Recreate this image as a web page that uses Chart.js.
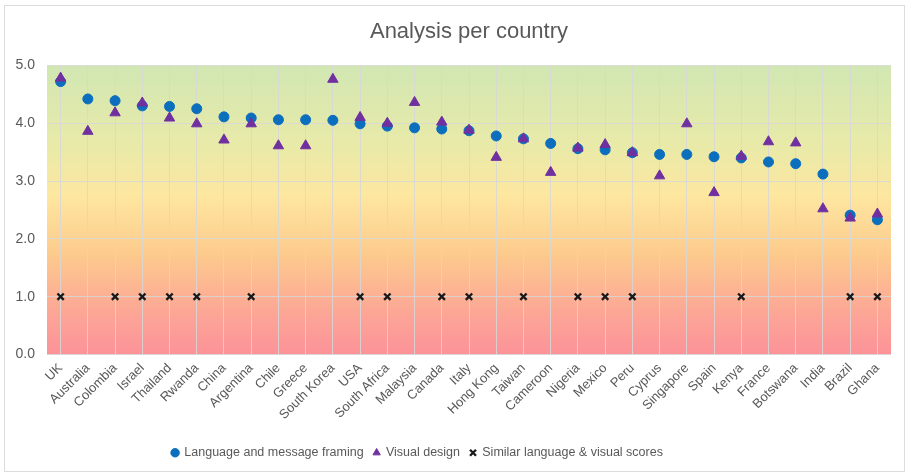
<!DOCTYPE html>
<html>
<head>
<meta charset="utf-8">
<script src="https://cdn.jsdelivr.net/npm/chart.js@4"></script>
<style>
  html, body { margin: 0; padding: 0; background: #ffffff; }
  #wrap { position: relative; width: 906px; height: 475px; }
</style>
</head>
<body>
<div id="wrap"><canvas id="countryChart"></canvas></div>
<script>
// categories
var countries = ['UK', 'Australia', 'Colombia', 'Israel', 'Thailand', 'Rwanda', 'China', 'Argentina',
  'Chile', 'Greece', 'South Korea', 'USA', 'South Africa', 'Malaysia', 'Canada', 'Italy',
  'Hong Kong', 'Taiwan', 'Cameroon', 'Nigeria', 'Mexico', 'Peru', 'Cyprus', 'Singapore',
  'Spain', 'Kenya', 'France', 'Botswana', 'India', 'Brazil', 'Ghana'];

// series values
var languageScores = [4.72, 4.42, 4.39, 4.30, 4.29, 4.25, 4.11, 4.09, 4.06, 4.06, 4.05, 3.99,
  3.95, 3.92, 3.90, 3.87, 3.78, 3.73, 3.65, 3.56, 3.54, 3.49, 3.46, 3.46, 3.42, 3.40,
  3.33, 3.30, 3.12, 2.41, 2.33];
var visualScores = [4.78, 3.86, 4.18, 4.35, 4.09, 3.99, 3.71, 3.99, 3.61, 3.61, 4.76, 4.10,
  4.00, 4.36, 4.02, 3.88, 3.41, 3.73, 3.15, 3.57, 3.63, 3.49, 3.09, 3.99, 2.80, 3.43,
  3.68, 3.66, 2.52, 2.36, 2.43];
var similarScores = [1, null, 1, 1, 1, 1, null, 1, null, null, null, 1, 1, null, 1, 1,
  null, 1, null, 1, 1, 1, null, null, null, 1, null, null, null, 1, 1];

// tick labels
var yTicks = [0, 1, 2, 3, 4, 5];

var textColor = '#595959';
Chart.defaults.font.family = '"Liberation Sans", Arial, sans-serif';
Chart.defaults.color = textColor;

// gradient behind the plot + thin frame round the whole picture
var backdrop = {
  id: 'backdrop',
  beforeDraw: function(chart) {
    var ctx = chart.ctx, a = chart.chartArea;
    ctx.save();
    ctx.strokeStyle = '#dcdcdc';
    ctx.lineWidth = 1;
    ctx.strokeRect(4.5, 5.5, 900, 466);
    var g = ctx.createLinearGradient(0, a.top, 0, a.bottom);
    g.addColorStop(0, '#d1e7b3');
    g.addColorStop(0.28, '#e9eaa8');
    g.addColorStop(0.45, '#fde7a0');
    g.addColorStop(0.65, '#fdcb8d');
    g.addColorStop(0.85, '#fca796');
    g.addColorStop(1, '#fc9298');
    ctx.fillStyle = g;
    ctx.fillRect(a.left, a.top, a.right - a.left, a.bottom - a.top);
    ctx.restore();
  },
  afterLayout: function(chart) {
    // legend sits a little left of centre in the original
    var lg = chart.legend;
    if (lg) { lg.left -= 33; lg.right -= 33; }
  }
};

var ctx = document.getElementById('countryChart').getContext('2d');
new Chart(ctx, {
  type: 'line',
  data: {
    labels: countries,
    datasets: [{
      label: 'Language and message framing',
      data: languageScores,
      showLine: false,
      pointStyle: 'circle',
      pointRadius: 5,
      pointBackgroundColor: '#0b6fbd',
      pointBorderColor: '#0b6fbd',
      backgroundColor: '#0b6fbd',
      borderColor: '#0b6fbd',
      order: 1
    }, {
      label: 'Visual design',
      data: visualScores,
      showLine: false,
      pointStyle: 'triangle',
      pointRadius: 6,
      pointBackgroundColor: '#7030a0',
      pointBorderColor: '#7030a0',
      backgroundColor: '#7030a0',
      borderColor: '#7030a0',
      order: 0
    }, {
      label: 'Similar language & visual scores',
      data: similarScores,
      showLine: false,
      pointStyle: 'crossRot',
      pointRadius: 4.5,
      pointBorderWidth: 2.4,
      pointBorderColor: '#1a1a1a',
      backgroundColor: '#1a1a1a',
      borderColor: '#1a1a1a',
      order: 2
    }]
  },
  options: {
    responsive: true,
    maintainAspectRatio: false,
    animation: false,
    layout: { padding: { left: 10, right: 15, top: 5, bottom: 6 } },
    plugins: {
      title: {
        display: true,
        text: 'Analysis per country',
        fullSize: false,
        color: textColor,
        font: { size: 22, weight: 'normal' },
        padding: { top: 14, bottom: 20 }
      },
      legend: {
        position: 'bottom',
        labels: {
          usePointStyle: true,
          boxWidth: 6,
          boxHeight: 6,
          padding: 10,
          color: textColor,
          font: { size: 12.5 },
          sort: function(a, b) { return a.datasetIndex - b.datasetIndex; }
        }
      },
      tooltip: { enabled: false }
    },
    scales: {
      x: {
        offset: true,
        grid: { color: 'rgba(215,215,215,0.85)', drawTicks: false },
        border: { display: false },
        ticks: {
          color: textColor,
          font: { size: 13 },
          maxRotation: 45,
          minRotation: 45,
          autoSkip: false,
          padding: 6
        },
        afterFit: function(scale) { scale.height = 82; }
      },
      y: {
        min: 0,
        max: 5,
        grid: { color: 'rgba(215,215,215,0.85)', drawTicks: false },
        border: { display: false },
        afterBuildTicks: function(scale) {
          scale.ticks = yTicks.map(function(v) { return { value: v }; });
        },
        ticks: {
          color: textColor,
          font: { size: 14 },
          padding: 12,
          callback: function(v) { return Number(v).toFixed(1); }
        },
        afterFit: function(scale) { scale.width = 37; }
      }
    }
  },
  plugins: [backdrop]
});
</script>
</body>
</html>
